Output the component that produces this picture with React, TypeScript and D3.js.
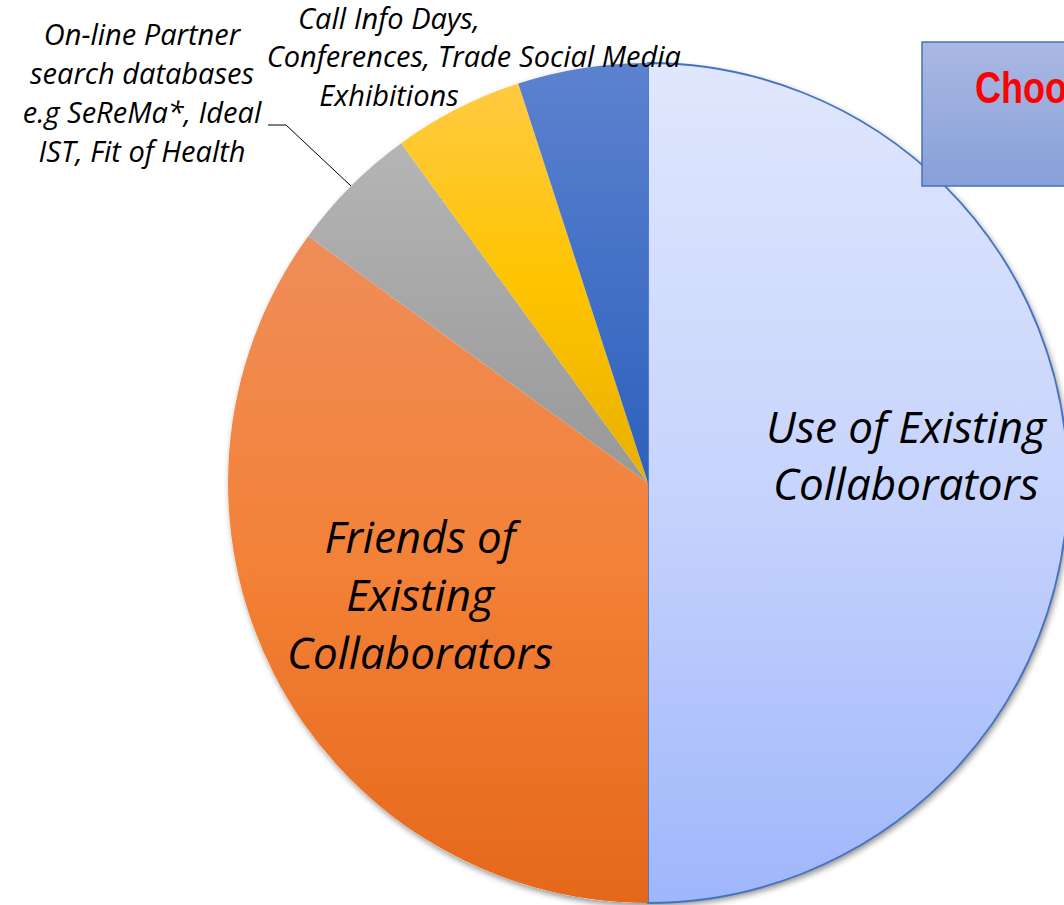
import React from "react";
import * as d3 from "d3";

const categories = [
  "Use of Existing Collaborators",
  "Friends of Existing Collaborators",
  "On-line Partner search databases e.g SeReMa*, Ideal IST, Fit of Health",
  "Call Info Days, Conferences, Trade Exhibitions",
  "Social Media",
];
const values = [50, 35, 5, 5, 5];
const gradTop = ["#e0e7fd", "#ef8d58", "#b5b5b5", "#ffca42", "#5c82cf"];
const gradMid = ["#c7d4fc", "#f38137", "#a6a6a6", "#fec400", "#4471c6"];
const gradBottom = ["#9fb6fb", "#e5681a", "#989898", "#e8b000", "#2d60bd"];

const W = 1064;
const H = 905;
const cx = 648;
const cy = 483;
const R = 420;

const FONT = "'Open Sans', Lato, sans-serif";

export default function App() {
  const pie = d3
    .pie<number>()
    .sort(null)
    .value((d) => d);
  const arcs = pie(values);
  const arcGen = d3.arc<d3.PieArcDatum<number>>().innerRadius(0).outerRadius(R);

  return (
    <svg
      width={W}
      height={H}
      style={{ position: "absolute", left: 0, top: 0, display: "block" }}
    >
      <defs>
        {arcs.map((a, i) => (
          <linearGradient key={i} id={`g${i}`} x1="0" y1="0" x2="0" y2="1">
            <stop offset="0" stopColor={gradTop[i]} />
            <stop offset="0.5" stopColor={gradMid[i]} />
            <stop offset="1" stopColor={gradBottom[i]} />
          </linearGradient>
        ))}
        <linearGradient id="boxg" x1="0" y1="0" x2="0" y2="1">
          <stop offset="0" stopColor="#aab8e3" />
          <stop offset="1" stopColor="#87a0d8" />
        </linearGradient>
        <filter id="shadow" x="-10%" y="-10%" width="120%" height="120%">
          <feDropShadow dx="2" dy="3" stdDeviation="3" floodColor="#000" floodOpacity="0.45" />
        </filter>
      </defs>
      <g transform={`translate(${cx},${cy})`}>
        <circle r={R} fill="#fff" filter="url(#shadow)" />
        {arcs.map((a, i) => (
          <path
            key={i}
            d={arcGen(a) || ""}
            fill={`url(#g${i})`}
            stroke={i === 0 ? "#4472c4" : "none"}
            strokeWidth={i === 0 ? 1.8 : 0}
          />
        ))}
      </g>

      {/* leader line for on-line databases */}
      <polyline
        points="268,125 286,125 351,186"
        fill="none"
        stroke="#000"
        strokeWidth={1}
      />

      <g fontFamily={FONT} fontStyle="italic" fill="#000" textAnchor="middle">
        <text fontSize={44}>
          <tspan x={906} y={443}>Use of Existing</tspan>
          <tspan x={906} y={500}>Collaborators</tspan>
        </text>
        <text fontSize={44}>
          <tspan x={420} y={553}>Friends of</tspan>
          <tspan x={420} y={611}>Existing</tspan>
          <tspan x={420} y={669}>Collaborators</tspan>
        </text>
        <text fontSize={29}>
          <tspan x={142} y={45}>On-line Partner</tspan>
          <tspan x={142} y={84}>search databases</tspan>
          <tspan x={142} y={123}>e.g SeReMa*, Ideal</tspan>
          <tspan x={142} y={162}>IST, Fit of Health</tspan>
        </text>
        <text fontSize={29}>
          <tspan x={389} y={29}>Call Info Days,</tspan>
          <tspan x={389} y={67}>Conferences, Trade</tspan>
          <tspan x={389} y={106}>Exhibitions</tspan>
        </text>
        <text fontSize={29}>
          <tspan x={600} y={67}>Social Media</tspan>
        </text>
      </g>

      <rect x={922} y={42} width={200} height={144} fill="url(#boxg)" stroke="#4472c4" strokeWidth={1.5} />
      <text
        transform="translate(975,103) scale(0.82,1)"
        fill="#ff0000"
        fontFamily="'Liberation Sans', Arial, sans-serif"
        fontWeight="bold"
        fontSize={44}
      >
        Choosing
      </text>
    </svg>
  );
}
